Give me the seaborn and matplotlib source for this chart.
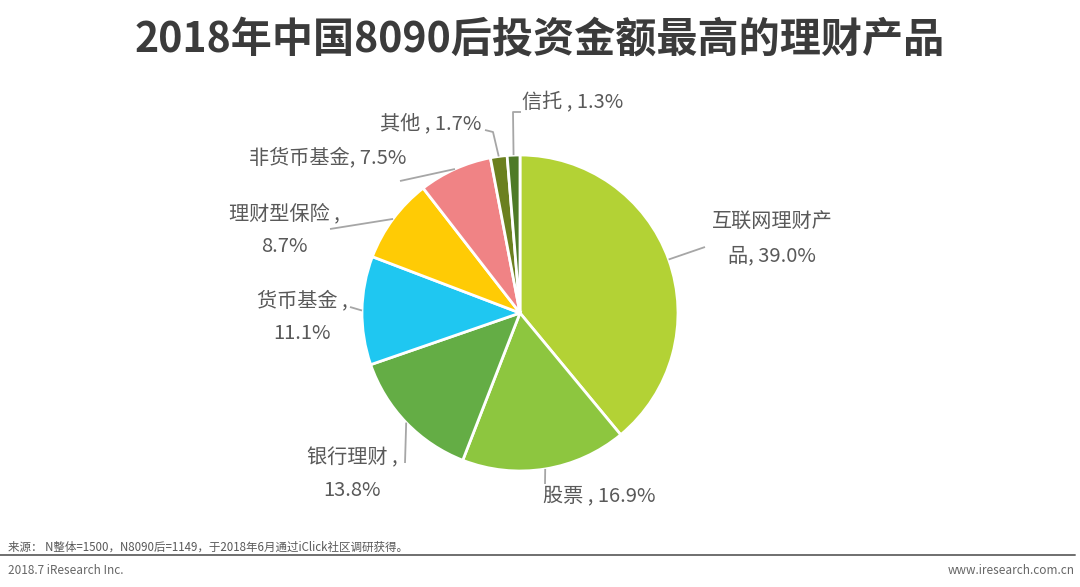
"""
2018年中国8090后投资金额最高的理财产品 - pie chart
"""

import numpy as np
import matplotlib
matplotlib.use("Agg")
import matplotlib.pyplot as plt
import seaborn as sns

# data
categories = ['互联网理财产品', '股票', '银行理财', '货币基金',
              '理财型保险', '非货币基金', '其他', '信托']
shares = [39.0, 16.9, 13.8, 11.1, 8.7, 7.5, 1.7, 1.3]
label_texts = ['互联网理财产\n品, 39.0%', '股票 , 16.9%', '银行理财 ,\n13.8%',
               '货币基金 ,\n11.1%', '理财型保险 ,\n8.7%', '非货币基金, 7.5%',
               '其他 , 1.7%', '信托 , 1.3%']
colors = ['#b3d235', '#8dc63f', '#64ad45', '#1fc7f1',
          '#ffcb05', '#f08385', '#6b801f', '#4e7a27']

# layout in pixels (figure 1080x587, pie centre and radius)
W, H = 1080, 587
CX, CY, R = 520, 313, 158
label_pos = [(772, 239), (599, 496), (352, 474), (302, 317),
             (284, 230), (328, 158), (431, 124), (573, 103)]
leader_pts = [[(705, 247)], [(545, 484)], [(405, 463)], [(350, 307)],
              [(330, 229)], [(400, 181)], [(493, 132), (485, 130)],
              [(513, 112), (521, 112)]]


def px(x, y):
    """pixel (from top-left) -> data units of the pie axes"""
    return (x - CX) / R, (CY - y) / R


sns.set_style("white")
plt.rcParams['font.family'] = ['Noto Sans CJK SC', 'DejaVu Sans']

fig = plt.figure(figsize=(W / 100, H / 100), dpi=100)
ax = fig.add_axes([0, 0, 1, 1])

wedges, _ = ax.pie(shares, colors=colors, startangle=90, counterclock=False,
                   radius=1, center=(0, 0),
                   wedgeprops=dict(edgecolor='white', linewidth=2))
ax.set_xlim(-CX / R, (W - CX) / R)
ax.set_ylim(-(H - CY) / R, CY / R)
ax.set_aspect('auto')
ax.axis('off')

text_color = '#595959'
for w, txt, pos, pts in zip(wedges, label_texts, label_pos, leader_pts):
    theta = np.deg2rad((w.theta1 + w.theta2) / 2)
    xs = [np.cos(theta)] + [px(*p)[0] for p in pts]
    ys = [np.sin(theta)] + [px(*p)[1] for p in pts]
    ax.plot(xs, ys, color='#a6a6a6', lw=1.3, solid_capstyle='butt')
    lx, ly = px(*pos)
    ax.text(lx, ly, txt, ha='center', va='center', fontsize=14.5,
            color=text_color, linespacing=1.75)

# title
fig.text(0.5, 1 - 40 / H, '2018年中国8090后投资金额最高的理财产品',
         ha='center', va='center', fontsize=29.6, fontweight='bold', color='#3b3b3b')

# footer
fig.text(8 / W, 1 - 547 / H,
         '来源： N整体=1500，N8090后=1149，于2018年6月通过iClick社区调研获得。',
         ha='left', va='center', fontsize=8.3, color='#595959')
fig.add_artist(plt.Line2D([0, 1075 / W], [1 - 555 / H, 1 - 555 / H],
                          color='#6f6f6f', lw=1.4))
fig.text(8 / W, 1 - 570 / H, '2018.7 iResearch Inc.',
         ha='left', va='center', fontsize=8.5, color='#666666')
fig.text(1075 / W, 1 - 570 / H, 'www.iresearch.com.cn',
         ha='right', va='center', fontsize=8.5, color='#666666')

plt.savefig('out.png', dpi=100)
plt.close()
